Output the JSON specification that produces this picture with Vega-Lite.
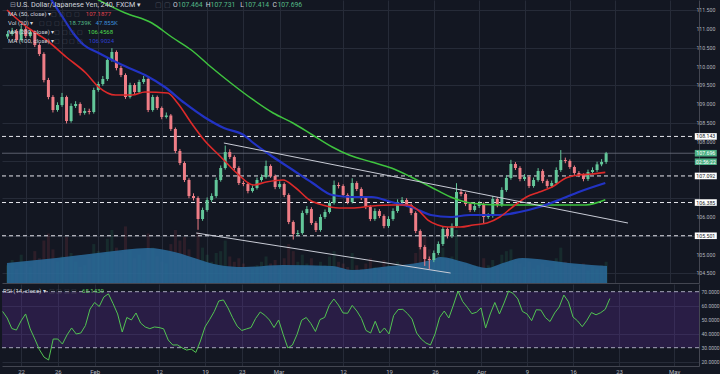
{
"$schema":"https://vega.github.io/schema/vega-lite/v6.json",
"background":"#131722",
"padding":0,
"spacing":1,
"config":{"view":{"stroke":null},"font":"Roboto","axis":{"labelFont":"Roboto","labelColor":"#b2b5be","ticks":false,"gridColor":"#262b38","gridWidth":1,"domainColor":"#434651"}},
"datasets":{
"candles":[
{"d":-2,"o":110.8,"h":110.95,"l":110.74,"c":110.867,"v":50,"r":55.9},
{"d":-1.5,"o":110.867,"h":111.03,"l":110.82,"c":110.947,"v":65,"r":51.2},
{"d":-1,"o":110.947,"h":111.0,"l":110.65,"c":110.707,"v":40,"r":43.7},
{"d":-0.5,"o":110.707,"h":111.1,"l":110.66,"c":111.0,"v":80,"r":42.6},
{"d":0,"o":111.0,"h":111.06,"l":110.76,"c":110.814,"v":55,"r":49.1},
{"d":0.5,"o":110.814,"h":110.99,"l":110.77,"c":110.92,"v":45,"r":54.1},
{"d":1,"o":110.92,"h":110.96,"l":110.52,"c":110.574,"v":90,"r":43.4},
{"d":1.5,"o":110.574,"h":110.62,"l":110.28,"c":110.335,"v":70,"r":36.2},
{"d":2,"o":110.335,"h":110.38,"l":109.58,"c":109.643,"v":120,"r":28.6},
{"d":2.5,"o":109.643,"h":109.7,"l":109.13,"c":109.191,"v":140,"r":23.3},
{"d":3,"o":109.191,"h":109.24,"l":108.78,"c":108.845,"v":95,"r":21.2},
{"d":3.5,"o":108.845,"h":109.05,"l":108.8,"c":108.978,"v":60,"r":36.2},
{"d":4,"o":108.978,"h":109.3,"l":108.93,"c":109.191,"v":75,"r":36.2},
{"d":4.5,"o":109.191,"h":109.23,"l":108.49,"c":108.553,"v":130,"r":32.6},
{"d":5,"o":108.553,"h":109.02,"l":108.51,"c":108.952,"v":85,"r":39.1},
{"d":5.5,"o":108.952,"h":109.08,"l":108.9,"c":109.005,"v":60,"r":44.1},
{"d":6,"o":109.005,"h":109.05,"l":108.7,"c":108.766,"v":45,"r":39.8},
{"d":6.5,"o":108.766,"h":108.9,"l":108.72,"c":108.82,"v":50,"r":40.5},
{"d":7,"o":108.82,"h":108.88,"l":108.73,"c":108.792,"v":70,"r":45.8},
{"d":7.5,"o":108.792,"h":109.44,"l":108.75,"c":109.377,"v":110,"r":57.6},
{"d":8,"o":109.377,"h":109.6,"l":109.33,"c":109.537,"v":90,"r":62.3},
{"d":8.5,"o":109.537,"h":109.75,"l":109.49,"c":109.67,"v":80,"r":59.4},
{"d":9,"o":109.67,"h":110.24,"l":109.62,"c":110.175,"v":125,"r":66.2},
{"d":9.5,"o":110.175,"h":110.49,"l":110.13,"c":110.388,"v":150,"r":68.5},
{"d":10,"o":110.388,"h":110.43,"l":109.9,"c":109.962,"v":100,"r":61.6},
{"d":10.5,"o":109.962,"h":110.02,"l":109.72,"c":109.776,"v":85,"r":54.1},
{"d":11,"o":109.776,"h":109.82,"l":109.14,"c":109.191,"v":160,"r":41.2},
{"d":11.5,"o":109.191,"h":109.57,"l":109.15,"c":109.51,"v":95,"r":51.6},
{"d":12,"o":109.51,"h":109.56,"l":109.27,"c":109.324,"v":70,"r":49.8},
{"d":12.5,"o":109.324,"h":109.65,"l":109.28,"c":109.59,"v":80,"r":54.8},
{"d":13,"o":109.59,"h":109.75,"l":109.54,"c":109.67,"v":65,"r":47.6},
{"d":13.5,"o":109.67,"h":109.71,"l":108.79,"c":108.845,"v":140,"r":44.8},
{"d":14,"o":108.845,"h":109.25,"l":108.8,"c":109.191,"v":100,"r":43.6},
{"d":14.5,"o":109.191,"h":109.23,"l":108.85,"c":108.899,"v":75,"r":44.8},
{"d":15,"o":108.899,"h":108.94,"l":108.6,"c":108.659,"v":60,"r":44.4},
{"d":15.5,"o":108.659,"h":108.78,"l":108.62,"c":108.7,"v":55,"r":43.5},
{"d":16,"o":108.7,"h":108.74,"l":108.29,"c":108.34,"v":110,"r":35.5},
{"d":16.5,"o":108.34,"h":108.38,"l":107.7,"c":107.755,"v":150,"r":31.9},
{"d":17,"o":107.755,"h":107.81,"l":107.38,"c":107.436,"v":120,"r":32.0},
{"d":17.5,"o":107.436,"h":107.48,"l":106.93,"c":106.984,"v":130,"r":29.9},
{"d":18,"o":106.984,"h":107.03,"l":106.5,"c":106.558,"v":95,"r":28.3},
{"d":18.5,"o":106.558,"h":106.63,"l":106.44,"c":106.505,"v":70,"r":29.0},
{"d":19,"o":106.505,"h":106.55,"l":105.66,"c":105.947,"v":145,"r":26.6},
{"d":19.5,"o":105.947,"h":106.25,"l":105.9,"c":106.186,"v":100,"r":34.8},
{"d":20,"o":106.186,"h":106.52,"l":106.14,"c":106.452,"v":80,"r":44.8},
{"d":20.5,"o":106.452,"h":106.63,"l":106.4,"c":106.558,"v":60,"r":50.1},
{"d":21,"o":106.558,"h":107.05,"l":106.51,"c":106.984,"v":85,"r":55.8},
{"d":21.5,"o":106.984,"h":107.37,"l":106.94,"c":107.303,"v":90,"r":63.4},
{"d":22,"o":107.303,"h":107.9,"l":107.26,"c":107.728,"v":120,"r":64.1},
{"d":22.5,"o":107.728,"h":107.8,"l":107.54,"c":107.595,"v":75,"r":58.4},
{"d":23,"o":107.595,"h":107.64,"l":107.25,"c":107.303,"v":60,"r":51.4},
{"d":23.5,"o":107.303,"h":107.35,"l":106.85,"c":106.904,"v":70,"r":45.3},
{"d":24,"o":106.904,"h":106.96,"l":106.82,"c":106.877,"v":55,"r":42.3},
{"d":24.5,"o":106.877,"h":106.92,"l":106.63,"c":106.691,"v":45,"r":43.4},
{"d":25,"o":106.691,"h":106.84,"l":106.65,"c":106.771,"v":40,"r":44.4},
{"d":25.5,"o":106.771,"h":107.05,"l":106.73,"c":106.984,"v":50,"r":50.9},
{"d":26,"o":106.984,"h":107.13,"l":106.94,"c":107.064,"v":60,"r":55.5},
{"d":26.5,"o":107.064,"h":107.5,"l":107.02,"c":107.356,"v":75,"r":53.2},
{"d":27,"o":107.356,"h":107.4,"l":107.04,"c":107.09,"v":55,"r":49.8},
{"d":27.5,"o":107.09,"h":107.13,"l":106.74,"c":106.798,"v":65,"r":44.4},
{"d":28,"o":106.798,"h":106.95,"l":106.75,"c":106.877,"v":40,"r":49.8},
{"d":28.5,"o":106.877,"h":106.92,"l":106.53,"c":106.585,"v":70,"r":39.4},
{"d":29,"o":106.585,"h":106.63,"l":105.81,"c":105.867,"v":110,"r":29.8},
{"d":29.5,"o":105.867,"h":105.91,"l":105.4,"c":105.548,"v":90,"r":31.9},
{"d":30,"o":105.548,"h":105.65,"l":105.5,"c":105.574,"v":60,"r":39.4},
{"d":30.5,"o":105.574,"h":106.17,"l":105.53,"c":106.106,"v":80,"r":49.6},
{"d":31,"o":106.106,"h":106.29,"l":106.06,"c":106.212,"v":55,"r":51.6},
{"d":31.5,"o":106.212,"h":106.26,"l":105.79,"c":105.84,"v":70,"r":47.3},
{"d":32,"o":105.84,"h":105.89,"l":105.6,"c":105.654,"v":45,"r":41.6},
{"d":32.5,"o":105.654,"h":106.07,"l":105.61,"c":106.0,"v":60,"r":50.1},
{"d":33,"o":106.0,"h":106.2,"l":105.95,"c":106.133,"v":50,"r":51.6},
{"d":33.5,"o":106.133,"h":106.44,"l":106.09,"c":106.372,"v":75,"r":60.2},
{"d":34,"o":106.372,"h":106.97,"l":106.33,"c":106.851,"v":90,"r":64.8},
{"d":34.5,"o":106.851,"h":106.92,"l":106.76,"c":106.824,"v":60,"r":60.5},
{"d":35,"o":106.824,"h":106.87,"l":106.53,"c":106.585,"v":55,"r":54.8},
{"d":35.5,"o":106.585,"h":106.63,"l":106.34,"c":106.399,"v":45,"r":54.6},
{"d":36,"o":106.399,"h":107.03,"l":106.36,"c":106.904,"v":85,"r":60.2},
{"d":36.5,"o":106.904,"h":106.95,"l":106.69,"c":106.744,"v":50,"r":56.2},
{"d":37,"o":106.744,"h":106.79,"l":106.45,"c":106.505,"v":40,"r":50.9},
{"d":37.5,"o":106.505,"h":106.55,"l":106.21,"c":106.266,"v":55,"r":42.3},
{"d":38,"o":106.266,"h":106.31,"l":105.89,"c":105.947,"v":70,"r":40.5},
{"d":38.5,"o":105.947,"h":106.23,"l":105.9,"c":106.159,"v":45,"r":48.9},
{"d":39,"o":106.159,"h":106.21,"l":105.97,"c":106.026,"v":40,"r":40.5},
{"d":39.5,"o":106.026,"h":106.07,"l":105.7,"c":105.76,"v":65,"r":44.1},
{"d":40,"o":105.76,"h":106.02,"l":105.71,"c":105.947,"v":50,"r":39.8},
{"d":40.5,"o":105.947,"h":106.23,"l":105.9,"c":106.159,"v":45,"r":53.0},
{"d":41,"o":106.159,"h":106.47,"l":106.11,"c":106.399,"v":60,"r":57.3},
{"d":41.5,"o":106.399,"h":106.53,"l":106.35,"c":106.452,"v":40,"r":57.4},
{"d":42,"o":106.452,"h":106.5,"l":106.27,"c":106.319,"v":35,"r":54.4},
{"d":42.5,"o":106.319,"h":106.36,"l":106.05,"c":106.106,"v":55,"r":50.5},
{"d":43,"o":106.106,"h":106.15,"l":105.57,"c":105.627,"v":85,"r":40.5},
{"d":43.5,"o":105.627,"h":105.67,"l":105.14,"c":105.202,"v":110,"r":36.2},
{"d":44,"o":105.202,"h":105.25,"l":104.7,"c":104.883,"v":130,"r":33.4},
{"d":44.5,"o":104.883,"h":104.95,"l":104.62,"c":104.856,"v":95,"r":31.9},
{"d":45,"o":104.856,"h":105.11,"l":104.8,"c":105.042,"v":70,"r":39.8},
{"d":45.5,"o":105.042,"h":105.35,"l":104.99,"c":105.282,"v":80,"r":51.6},
{"d":46,"o":105.282,"h":105.75,"l":105.23,"c":105.681,"v":100,"r":56.2},
{"d":46.5,"o":105.681,"h":105.73,"l":105.43,"c":105.494,"v":65,"r":51.2},
{"d":47,"o":105.494,"h":105.83,"l":105.44,"c":105.76,"v":75,"r":60.5},
{"d":47.5,"o":105.76,"h":106.9,"l":105.71,"c":106.665,"v":150,"r":70.5},
{"d":48,"o":106.665,"h":106.75,"l":106.55,"c":106.611,"v":60,"r":63.0},
{"d":48.5,"o":106.611,"h":106.66,"l":106.29,"c":106.345,"v":55,"r":58.9},
{"d":49,"o":106.345,"h":106.39,"l":106.13,"c":106.186,"v":45,"r":54.3},
{"d":49.5,"o":106.186,"h":106.36,"l":106.14,"c":106.292,"v":50,"r":55.3},
{"d":50,"o":106.292,"h":106.42,"l":106.24,"c":106.345,"v":40,"r":58.4},
{"d":50.5,"o":106.345,"h":106.39,"l":105.83,"c":106.0,"v":70,"r":44.1},
{"d":51,"o":106.0,"h":106.1,"l":105.95,"c":106.026,"v":50,"r":54.1},
{"d":51.5,"o":106.026,"h":106.56,"l":105.98,"c":106.478,"v":65,"r":62.3},
{"d":52,"o":106.478,"h":106.53,"l":106.26,"c":106.319,"v":45,"r":54.1},
{"d":52.5,"o":106.319,"h":106.79,"l":106.27,"c":106.718,"v":80,"r":61.9},
{"d":53,"o":106.718,"h":107.11,"l":106.67,"c":107.037,"v":90,"r":70.5},
{"d":53.5,"o":107.037,"h":107.52,"l":106.99,"c":107.409,"v":95,"r":68.7},
{"d":54,"o":107.409,"h":107.46,"l":107.25,"c":107.303,"v":60,"r":64.8},
{"d":54.5,"o":107.303,"h":107.35,"l":106.95,"c":107.01,"v":55,"r":55.9},
{"d":55,"o":107.01,"h":107.14,"l":106.96,"c":107.064,"v":45,"r":54.1},
{"d":55.5,"o":107.064,"h":107.11,"l":106.77,"c":106.824,"v":60,"r":49.3},
{"d":56,"o":106.824,"h":107.05,"l":106.78,"c":106.984,"v":40,"r":57.1},
{"d":56.5,"o":106.984,"h":107.3,"l":106.94,"c":107.223,"v":50,"r":56.9},
{"d":57,"o":107.223,"h":107.27,"l":106.9,"c":106.957,"v":55,"r":51.5},
{"d":57.5,"o":106.957,"h":107.0,"l":106.77,"c":106.824,"v":45,"r":48.7},
{"d":58,"o":106.824,"h":106.97,"l":106.78,"c":106.904,"v":40,"r":54.8},
{"d":58.5,"o":106.904,"h":107.32,"l":106.86,"c":107.25,"v":70,"r":59.1},
{"d":59,"o":107.25,"h":107.78,"l":107.2,"c":107.516,"v":100,"r":67.6},
{"d":59.5,"o":107.516,"h":107.58,"l":107.43,"c":107.489,"v":60,"r":62.8},
{"d":60,"o":107.489,"h":107.53,"l":107.28,"c":107.33,"v":50,"r":51.9},
{"d":60.5,"o":107.33,"h":107.37,"l":107.12,"c":107.17,"v":45,"r":49.1},
{"d":61,"o":107.17,"h":107.22,"l":107.06,"c":107.117,"v":40,"r":45.0},
{"d":61.5,"o":107.117,"h":107.16,"l":106.95,"c":107.01,"v":55,"r":49.5},
{"d":62,"o":107.01,"h":107.26,"l":106.96,"c":107.197,"v":35,"r":55.1},
{"d":62.5,"o":107.197,"h":107.32,"l":107.15,"c":107.25,"v":45,"r":53.5},
{"d":63,"o":107.25,"h":107.47,"l":107.2,"c":107.4,"v":40,"r":55.0},
{"d":63.5,"o":107.4,"h":107.54,"l":107.35,"c":107.464,"v":50,"r":57.4},
{"d":64,"o":107.464,"h":107.731,"l":107.414,"c":107.696,"v":60,"r":65.14}
],
"ma":[
{"s":"50","d":-2.07,"p":111.505},{"s":"50","d":0.11,"p":111.053},{"s":"50","d":2.28,"p":110.707},{"s":"50","d":4.46,"p":110.255},{"s":"50","d":6.63,"p":109.83},{"s":"50","d":8.04,"p":109.457},{"s":"50","d":9.89,"p":109.245},{"s":"50","d":11.74,"p":109.245},{"s":"50","d":13.15,"p":109.324},{"s":"50","d":15.65,"p":109.298},{"s":"50","d":16.74,"p":109.032},{"s":"50","d":18.26,"p":108.5},{"s":"50","d":19.67,"p":108.048},{"s":"50","d":21.52,"p":107.596},{"s":"50","d":23.26,"p":107.17},{"s":"50","d":25.11,"p":106.851},{"s":"50","d":26.52,"p":106.931},{"s":"50","d":28.37,"p":106.984},{"s":"50","d":29.78,"p":106.771},{"s":"50","d":31.3,"p":106.452},{"s":"50","d":32.72,"p":106.319},{"s":"50","d":34.56,"p":106.239},{"s":"50","d":35.98,"p":106.239},{"s":"50","d":38.15,"p":106.292},{"s":"50","d":40.32,"p":106.319},{"s":"50","d":42.17,"p":106.319},{"s":"50","d":43.26,"p":106.186},{"s":"50","d":44.35,"p":105.92},{"s":"50","d":45.43,"p":105.787},{"s":"50","d":46.52,"p":105.734},{"s":"50","d":47.93,"p":105.734},{"s":"50","d":49.35,"p":105.787},{"s":"50","d":50.87,"p":105.84},{"s":"50","d":52.28,"p":106.0},{"s":"50","d":53.69,"p":106.266},{"s":"50","d":55.22,"p":106.532},{"s":"50","d":56.63,"p":106.665},{"s":"50","d":58.04,"p":106.798},{"s":"50","d":59.56,"p":107.037},{"s":"50","d":60.98,"p":107.117},{"s":"50","d":62.39,"p":107.143},{"s":"50","d":63.91,"p":107.188},
{"s":"100","d":1.74,"p":112.17},{"s":"100","d":2.83,"p":111.771},{"s":"100","d":4.13,"p":111.292},{"s":"100","d":5.22,"p":110.894},{"s":"100","d":6.41,"p":110.574},{"s":"100","d":8.04,"p":110.362},{"s":"100","d":10.65,"p":110.042},{"s":"100","d":13.15,"p":109.776},{"s":"100","d":15.33,"p":109.457},{"s":"100","d":17.5,"p":109.032},{"s":"100","d":19.67,"p":108.66},{"s":"100","d":21.85,"p":108.367},{"s":"100","d":24.02,"p":108.181},{"s":"100","d":25.11,"p":107.968},{"s":"100","d":27.28,"p":107.596},{"s":"100","d":29.46,"p":107.25},{"s":"100","d":31.63,"p":106.904},{"s":"100","d":33.8,"p":106.585},{"s":"100","d":35.98,"p":106.532},{"s":"100","d":38.15,"p":106.532},{"s":"100","d":40.32,"p":106.399},{"s":"100","d":42.5,"p":106.266},{"s":"100","d":44.67,"p":106.053},{"s":"100","d":46.85,"p":106.0},{"s":"100","d":49.02,"p":106.053},{"s":"100","d":52.28,"p":106.053},{"s":"100","d":54.46,"p":106.133},{"s":"100","d":56.63,"p":106.266},{"s":"100","d":58.8,"p":106.452},{"s":"100","d":60.98,"p":106.665},{"s":"100","d":63.91,"p":106.904},
{"s":"200","d":5.54,"p":112.09},{"s":"200","d":8.04,"p":111.771},{"s":"200","d":10.98,"p":111.425},{"s":"200","d":13.91,"p":111.159},{"s":"200","d":16.09,"p":110.787},{"s":"200","d":18.26,"p":110.441},{"s":"200","d":20.43,"p":109.989},{"s":"200","d":22.61,"p":109.564},{"s":"200","d":25.11,"p":109.112},{"s":"200","d":27.28,"p":108.766},{"s":"200","d":29.46,"p":108.5},{"s":"200","d":31.63,"p":108.181},{"s":"200","d":33.8,"p":107.862},{"s":"200","d":35.65,"p":107.649},{"s":"200","d":38.15,"p":107.463},{"s":"200","d":40.32,"p":107.303},{"s":"200","d":42.5,"p":107.064},{"s":"200","d":44.67,"p":106.798},{"s":"200","d":46.85,"p":106.532},{"s":"200","d":49.02,"p":106.372},{"s":"200","d":52.28,"p":106.319},{"s":"200","d":56.63,"p":106.319},{"s":"200","d":61.74,"p":106.319},{"s":"200","d":63.91,"p":106.457}
],
"volma":[
{"d":-2.07,"vm":56.5},{"d":3.37,"vm":70.7},{"d":8.8,"vm":87.6},{"d":13.48,"vm":98.9},{"d":16.41,"vm":87.6},{"d":18.59,"vm":70.7},{"d":21.3,"vm":50.9},{"d":24.02,"vm":45.2},{"d":28.37,"vm":50.9},{"d":33.8,"vm":48.1},{"d":35.98,"vm":36.8},{"d":39.24,"vm":45.2},{"d":44.67,"vm":65.0},{"d":45.76,"vm":73.5},{"d":48.26,"vm":59.4},{"d":50.87,"vm":42.4},{"d":52.61,"vm":56.5},{"d":54.78,"vm":70.7},{"d":57.39,"vm":65.0},{"d":59.89,"vm":56.5},{"d":62.39,"vm":50.9},{"d":64.1,"vm":47.9}
],
"levels":[{"p":108.143,"t":"108.143"},{"p":107.092,"t":"107.092"},{"p":106.385,"t":"106.385"},{"p":105.501,"t":"105.501"}],
"tags":[{"p":107.696,"t":"107.696"},{"p":107.47,"t":"02:56:22"}],
"last":[{"p":107.696}],
"trend":[{"x1":21.85,"p1":107.968,"x2":66.41,"p2":105.84},{"x1":18.8,"p1":105.574,"x2":46.85,"p2":104.51}],
"rsilev":[{"r":70},{"r":30}],
"pticks":[{"v":104.5},{"v":105},{"v":106},{"v":108},{"v":108.5},{"v":109},{"v":109.5},{"v":110},{"v":110.5},{"v":111},{"v":111.5}],
"rticks":[{"v":20},{"v":30},{"v":40},{"v":50},{"v":60},{"v":70}]
},
"vconcat":[
{
"width":697,"height":283,
"layer":[
{"layer":[
{"data":{"name":"candles"},"mark":{"type":"bar","width":3,"opacity":0.18},
 "encoding":{"x":{"field":"d","type":"quantitative","scale":{"domain":[-2.0667,73.69],"nice":false,"zero":false},"title":null,
   "axis":{"values":[0,4,8,15,20,24,28,35,40,45,50,55,60,65,71],"labels":false,"grid":true,"domain":true,"ticks":false}},
 "y":{"field":"v","type":"quantitative","scale":{"domain":[0,800],"nice":false},"axis":null},
 "color":{"condition":{"test":"datum.c>=datum.o","value":"#2f8a64"},"value":"#a8424e"}}},
{"data":{"name":"volma"},"mark":{"type":"area","color":"#2a6a98","opacity":0.88,"interpolate":"monotone"},
 "encoding":{"x":{"field":"d","type":"quantitative","scale":{"domain":[-2.0667,73.69],"nice":false,"zero":false},"title":null},
 "y":{"field":"vm","type":"quantitative","scale":{"domain":[0,800],"nice":false},"axis":null}}}
]},
{"layer":[
{"data":{"name":"levels"},"mark":{"type":"rule","color":"#e6e6ec","strokeDash":[4,3],"strokeWidth":1},
 "encoding":{"y":{"field":"p","type":"quantitative","scale":{"domain":[104.245,111.771],"nice":false,"zero":false},"title":null,
   "axis":{"orient":"right","values":[104.5,105,105.5,106,106.5,107,107.5,108,108.5,109,109.5,110,110.5,111,111.5],"labels":false,"grid":true,"domain":true}}}},
{"data":{"name":"last"},"mark":{"type":"rule","color":"#6b7280","strokeWidth":1,"opacity":0.8},
 "encoding":{"y":{"field":"p","type":"quantitative","scale":{"domain":[104.245,111.771],"nice":false,"zero":false},"title":null}}},
{"data":{"name":"candles"},"mark":{"type":"rule","strokeWidth":1},
 "encoding":{"x":{"field":"d","type":"quantitative","scale":{"domain":[-2.0667,73.69],"nice":false,"zero":false},"title":null},
 "y":{"field":"l","type":"quantitative","scale":{"domain":[104.245,111.771],"nice":false,"zero":false},"title":null},
 "y2":{"field":"h"},
 "color":{"condition":{"test":"datum.c>=datum.o","value":"#63c79a"},"value":"#ef7d86"}}},
{"data":{"name":"candles"},"mark":{"type":"bar","width":3},
 "encoding":{"x":{"field":"d","type":"quantitative","scale":{"domain":[-2.0667,73.69],"nice":false,"zero":false},"title":null},
 "y":{"field":"o","type":"quantitative","scale":{"domain":[104.245,111.771],"nice":false,"zero":false},"title":null},
 "y2":{"field":"c"},
 "color":{"condition":{"test":"datum.c>=datum.o","value":"#63c79a"},"value":"#ef7d86"}}},
{"data":{"name":"ma"},"transform":[{"filter":"datum.s=='200'"}],"mark":{"type":"line","color":"#3fc43f","strokeWidth":1.5,"interpolate":"monotone","clip":true},
 "encoding":{"x":{"field":"d","type":"quantitative","scale":{"domain":[-2.0667,73.69],"nice":false,"zero":false},"title":null},
 "y":{"field":"p","type":"quantitative","scale":{"domain":[104.245,111.771],"nice":false,"zero":false},"title":null}}},
{"data":{"name":"ma"},"transform":[{"filter":"datum.s=='100'"}],"mark":{"type":"line","color":"#2233c4","strokeWidth":2.2,"interpolate":"monotone","clip":true},
 "encoding":{"x":{"field":"d","type":"quantitative","scale":{"domain":[-2.0667,73.69],"nice":false,"zero":false},"title":null},
 "y":{"field":"p","type":"quantitative","scale":{"domain":[104.245,111.771],"nice":false,"zero":false},"title":null}}},
{"data":{"name":"ma"},"transform":[{"filter":"datum.s=='50'"}],"mark":{"type":"line","color":"#dd2a2a","strokeWidth":1.6,"interpolate":"monotone","clip":true},
 "encoding":{"x":{"field":"d","type":"quantitative","scale":{"domain":[-2.0667,73.69],"nice":false,"zero":false},"title":null},
 "y":{"field":"p","type":"quantitative","scale":{"domain":[104.245,111.771],"nice":false,"zero":false},"title":null}}},
{"data":{"name":"trend"},"mark":{"type":"rule","color":"#c9ccd6","strokeWidth":1},
 "encoding":{"x":{"field":"x1","type":"quantitative","scale":{"domain":[-2.0667,73.69],"nice":false,"zero":false},"title":null},
 "x2":{"field":"x2"},
 "y":{"field":"p1","type":"quantitative","scale":{"domain":[104.245,111.771],"nice":false,"zero":false},"title":null},
 "y2":{"field":"p2"}}},
{"data":{"name":"pticks"},"mark":{"type":"text","fontSize":5.2,"color":"#b2b5be","align":"left","baseline":"middle"},
 "encoding":{"x":{"datum":73.96,"type":"quantitative","scale":{"domain":[-2.0667,73.69],"nice":false,"zero":false},"title":null},
 "y":{"field":"v","type":"quantitative","scale":{"domain":[104.245,111.771],"nice":false,"zero":false},"title":null},"text":{"field":"v","format":".3f"}}},
{"data":{"name":"levels"},"mark":{"type":"point","shape":"M-1,-0.3L1,-0.3L1,0.3L-1,0.3Z","size":484,"filled":true,"opacity":1,"color":"#ffffff"},
 "encoding":{"x":{"datum":74.99,"type":"quantitative","scale":{"domain":[-2.0667,73.69],"nice":false,"zero":false},"title":null},
 "y":{"field":"p","type":"quantitative","scale":{"domain":[104.245,111.771],"nice":false,"zero":false},"title":null}}},
{"data":{"name":"levels"},"mark":{"type":"text","fontSize":5.2,"color":"#131722","align":"center","baseline":"middle"},
 "encoding":{"x":{"datum":74.99,"type":"quantitative","scale":{"domain":[-2.0667,73.69],"nice":false,"zero":false},"title":null},
 "y":{"field":"p","type":"quantitative","scale":{"domain":[104.245,111.771],"nice":false,"zero":false},"title":null},"text":{"field":"t"}}},
{"data":{"name":"tags"},"mark":{"type":"point","shape":"M-1,-0.3L1,-0.3L1,0.3L-1,0.3Z","size":484,"filled":true,"opacity":1,"color":"#4caf84"},
 "encoding":{"x":{"datum":74.99,"type":"quantitative","scale":{"domain":[-2.0667,73.69],"nice":false,"zero":false},"title":null},
 "y":{"field":"p","type":"quantitative","scale":{"domain":[104.245,111.771],"nice":false,"zero":false},"title":null}}},
{"data":{"name":"tags"},"mark":{"type":"text","fontSize":5.2,"color":"#ffffff","align":"center","baseline":"middle"},
 "encoding":{"x":{"datum":74.99,"type":"quantitative","scale":{"domain":[-2.0667,73.69],"nice":false,"zero":false},"title":null},
 "y":{"field":"p","type":"quantitative","scale":{"domain":[104.245,111.771],"nice":false,"zero":false},"title":null},"text":{"field":"t"}}},
{"data":{"values":[{}]},"mark":{"type":"text","text":"⊟","color":"#9598a1","fontSize":7,"align":"left","baseline":"middle"},
 "encoding":{"x":{"datum":-1.74,"type":"quantitative","scale":{"domain":[-2.0667,73.69],"nice":false,"zero":false},"title":null},"y":{"datum":111.638,"type":"quantitative","scale":{"domain":[104.245,111.771],"nice":false,"zero":false},"title":null}}},
{"data":{"values":[{}]},"mark":{"type":"text","text":"U.S. Dollar/Japanese Yen, 240, FXCM ▾","color":"#d1d4dc","fontSize":7.2,"align":"left","baseline":"middle"},
 "encoding":{"x":{"datum":-1.02,"type":"quantitative","scale":{"domain":[-2.0667,73.69],"nice":false,"zero":false},"title":null},"y":{"datum":111.638,"type":"quantitative","scale":{"domain":[104.245,111.771],"nice":false,"zero":false},"title":null}}},
{"data":{"values":[{}]},"mark":{"type":"text","text":"▢ ▢","color":"#4a4e5a","fontSize":7,"align":"left","baseline":"middle"},
 "encoding":{"x":{"datum":14.3,"type":"quantitative","scale":{"domain":[-2.0667,73.69],"nice":false,"zero":false},"title":null},"y":{"datum":111.638,"type":"quantitative","scale":{"domain":[104.245,111.771],"nice":false,"zero":false},"title":null}}},
{"data":{"values":[{}]},"mark":{"type":"text","text":"O","color":"#d1d4dc","fontSize":6.8,"align":"left","baseline":"middle"},
 "encoding":{"x":{"datum":16.23,"type":"quantitative","scale":{"domain":[-2.0667,73.69],"nice":false,"zero":false},"title":null},"y":{"datum":111.638,"type":"quantitative","scale":{"domain":[104.245,111.771],"nice":false,"zero":false},"title":null}}},
{"data":{"values":[{}]},"mark":{"type":"text","text":"107.464","color":"#53b987","fontSize":6.8,"align":"left","baseline":"middle"},
 "encoding":{"x":{"datum":16.77,"type":"quantitative","scale":{"domain":[-2.0667,73.69],"nice":false,"zero":false},"title":null},"y":{"datum":111.638,"type":"quantitative","scale":{"domain":[104.245,111.771],"nice":false,"zero":false},"title":null}}},
{"data":{"values":[{}]},"mark":{"type":"text","text":"H","color":"#d1d4dc","fontSize":6.8,"align":"left","baseline":"middle"},
 "encoding":{"x":{"datum":19.86,"type":"quantitative","scale":{"domain":[-2.0667,73.69],"nice":false,"zero":false},"title":null},"y":{"datum":111.638,"type":"quantitative","scale":{"domain":[104.245,111.771],"nice":false,"zero":false},"title":null}}},
{"data":{"values":[{}]},"mark":{"type":"text","text":"107.731","color":"#53b987","fontSize":6.8,"align":"left","baseline":"middle"},
 "encoding":{"x":{"datum":20.38,"type":"quantitative","scale":{"domain":[-2.0667,73.69],"nice":false,"zero":false},"title":null},"y":{"datum":111.638,"type":"quantitative","scale":{"domain":[104.245,111.771],"nice":false,"zero":false},"title":null}}},
{"data":{"values":[{}]},"mark":{"type":"text","text":"L","color":"#d1d4dc","fontSize":6.8,"align":"left","baseline":"middle"},
 "encoding":{"x":{"datum":23.66,"type":"quantitative","scale":{"domain":[-2.0667,73.69],"nice":false,"zero":false},"title":null},"y":{"datum":111.638,"type":"quantitative","scale":{"domain":[104.245,111.771],"nice":false,"zero":false},"title":null}}},
{"data":{"values":[{}]},"mark":{"type":"text","text":"107.414","color":"#53b987","fontSize":6.8,"align":"left","baseline":"middle"},
 "encoding":{"x":{"datum":24.12,"type":"quantitative","scale":{"domain":[-2.0667,73.69],"nice":false,"zero":false},"title":null},"y":{"datum":111.638,"type":"quantitative","scale":{"domain":[104.245,111.771],"nice":false,"zero":false},"title":null}}},
{"data":{"values":[{}]},"mark":{"type":"text","text":"C","color":"#d1d4dc","fontSize":6.8,"align":"left","baseline":"middle"},
 "encoding":{"x":{"datum":27.21,"type":"quantitative","scale":{"domain":[-2.0667,73.69],"nice":false,"zero":false},"title":null},"y":{"datum":111.638,"type":"quantitative","scale":{"domain":[104.245,111.771],"nice":false,"zero":false},"title":null}}},
{"data":{"values":[{}]},"mark":{"type":"text","text":"107.696","color":"#53b987","fontSize":6.8,"align":"left","baseline":"middle"},
 "encoding":{"x":{"datum":27.75,"type":"quantitative","scale":{"domain":[-2.0667,73.69],"nice":false,"zero":false},"title":null},"y":{"datum":111.638,"type":"quantitative","scale":{"domain":[104.245,111.771],"nice":false,"zero":false},"title":null}}},
{"data":{"values":[{}]},"mark":{"type":"text","text":"MA (50, close) ▾","color":"#d1d4dc","fontSize":6,"align":"left","baseline":"middle"},
 "encoding":{"x":{"datum":-1.96,"type":"quantitative","scale":{"domain":[-2.0667,73.69],"nice":false,"zero":false},"title":null},"y":{"datum":111.399,"type":"quantitative","scale":{"domain":[104.245,111.771],"nice":false,"zero":false},"title":null}}},
{"data":{"values":[{}]},"mark":{"type":"text","text":"▢ ▢ ▢ ▢","color":"#4a4e5a","fontSize":6,"align":"left","baseline":"middle"},
 "encoding":{"x":{"datum":2.83,"type":"quantitative","scale":{"domain":[-2.0667,73.69],"nice":false,"zero":false},"title":null},"y":{"datum":111.399,"type":"quantitative","scale":{"domain":[104.245,111.771],"nice":false,"zero":false},"title":null}}},
{"data":{"values":[{}]},"mark":{"type":"text","text":"107.1877","color":"#e0434f","fontSize":6,"align":"left","baseline":"middle"},
 "encoding":{"x":{"datum":6.63,"type":"quantitative","scale":{"domain":[-2.0667,73.69],"nice":false,"zero":false},"title":null},"y":{"datum":111.399,"type":"quantitative","scale":{"domain":[104.245,111.771],"nice":false,"zero":false},"title":null}}},
{"data":{"values":[{}]},"mark":{"type":"text","text":"Vol (20) ▾","color":"#d1d4dc","fontSize":6,"align":"left","baseline":"middle"},
 "encoding":{"x":{"datum":-1.96,"type":"quantitative","scale":{"domain":[-2.0667,73.69],"nice":false,"zero":false},"title":null},"y":{"datum":111.159,"type":"quantitative","scale":{"domain":[104.245,111.771],"nice":false,"zero":false},"title":null}}},
{"data":{"values":[{}]},"mark":{"type":"text","text":"▢ ▢ ▢ ▢","color":"#4a4e5a","fontSize":6,"align":"left","baseline":"middle"},
 "encoding":{"x":{"datum":1.41,"type":"quantitative","scale":{"domain":[-2.0667,73.69],"nice":false,"zero":false},"title":null},"y":{"datum":111.159,"type":"quantitative","scale":{"domain":[104.245,111.771],"nice":false,"zero":false},"title":null}}},
{"data":{"values":[{}]},"mark":{"type":"text","text":"18.739K","color":"#53b987","fontSize":6,"align":"left","baseline":"middle"},
 "encoding":{"x":{"datum":4.78,"type":"quantitative","scale":{"domain":[-2.0667,73.69],"nice":false,"zero":false},"title":null},"y":{"datum":111.159,"type":"quantitative","scale":{"domain":[104.245,111.771],"nice":false,"zero":false},"title":null}}},
{"data":{"values":[{}]},"mark":{"type":"text","text":"47.855K","color":"#3d8fd9","fontSize":6,"align":"left","baseline":"middle"},
 "encoding":{"x":{"datum":7.7,"type":"quantitative","scale":{"domain":[-2.0667,73.69],"nice":false,"zero":false},"title":null},"y":{"datum":111.159,"type":"quantitative","scale":{"domain":[104.245,111.771],"nice":false,"zero":false},"title":null}}},
{"data":{"values":[{}]},"mark":{"type":"text","text":"MA (200, close) ▾","color":"#d1d4dc","fontSize":6,"align":"left","baseline":"middle"},
 "encoding":{"x":{"datum":-1.96,"type":"quantitative","scale":{"domain":[-2.0667,73.69],"nice":false,"zero":false},"title":null},"y":{"datum":110.92,"type":"quantitative","scale":{"domain":[104.245,111.771],"nice":false,"zero":false},"title":null}}},
{"data":{"values":[{}]},"mark":{"type":"text","text":"▢ ▢ ▢ ▢","color":"#4a4e5a","fontSize":6,"align":"left","baseline":"middle"},
 "encoding":{"x":{"datum":3.15,"type":"quantitative","scale":{"domain":[-2.0667,73.69],"nice":false,"zero":false},"title":null},"y":{"datum":110.92,"type":"quantitative","scale":{"domain":[104.245,111.771],"nice":false,"zero":false},"title":null}}},
{"data":{"values":[{}]},"mark":{"type":"text","text":"106.4568","color":"#4dd84d","fontSize":6,"align":"left","baseline":"middle"},
 "encoding":{"x":{"datum":6.85,"type":"quantitative","scale":{"domain":[-2.0667,73.69],"nice":false,"zero":false},"title":null},"y":{"datum":110.92,"type":"quantitative","scale":{"domain":[104.245,111.771],"nice":false,"zero":false},"title":null}}},
{"data":{"values":[{}]},"mark":{"type":"text","text":"MA (100, close) ▾","color":"#d1d4dc","fontSize":6,"align":"left","baseline":"middle"},
 "encoding":{"x":{"datum":-1.96,"type":"quantitative","scale":{"domain":[-2.0667,73.69],"nice":false,"zero":false},"title":null},"y":{"datum":110.681,"type":"quantitative","scale":{"domain":[104.245,111.771],"nice":false,"zero":false},"title":null}}},
{"data":{"values":[{}]},"mark":{"type":"text","text":"▢ ▢ ▢ ▢","color":"#4a4e5a","fontSize":6,"align":"left","baseline":"middle"},
 "encoding":{"x":{"datum":3.15,"type":"quantitative","scale":{"domain":[-2.0667,73.69],"nice":false,"zero":false},"title":null},"y":{"datum":110.681,"type":"quantitative","scale":{"domain":[104.245,111.771],"nice":false,"zero":false},"title":null}}},
{"data":{"values":[{}]},"mark":{"type":"text","text":"106.9024","color":"#2f3fd0","fontSize":6,"align":"left","baseline":"middle"},
 "encoding":{"x":{"datum":6.96,"type":"quantitative","scale":{"domain":[-2.0667,73.69],"nice":false,"zero":false},"title":null},"y":{"datum":110.681,"type":"quantitative","scale":{"domain":[104.245,111.771],"nice":false,"zero":false},"title":null}}}
]}
],
"resolve":{"scale":{"y":"independent"}}
},
{
"width":697,"height":82,
"layer":[
{"data":{"values":[{}]},"mark":{"type":"rect","color":"#6a30b0","opacity":0.25},
 "encoding":{"y":{"datum":30,"type":"quantitative","scale":{"domain":[16.93,75.5],"nice":false,"zero":false},"title":null,
   "axis":{"orient":"right","values":[20,30,40,50,60,70],"labels":false,"grid":true,"domain":true}},"y2":{"datum":70}}},
{"data":{"name":"rsilev"},"mark":{"type":"rule","color":"#a7a7bb","strokeDash":[4,3],"strokeWidth":1},
 "encoding":{"y":{"field":"r","type":"quantitative","scale":{"domain":[16.93,75.5],"nice":false,"zero":false},"title":null}}},
{"data":{"name":"candles"},"mark":{"type":"line","color":"#52c452","strokeWidth":1},
 "encoding":{"x":{"field":"d","type":"quantitative","scale":{"domain":[-2.0667,73.69],"nice":false,"zero":false},"title":null,
   "axis":{"values":[0,4,8,15,20,24,28,35,40,45,50,55,60,65,71],"labelExpr":"datum.value==0?'22':datum.value==4?'26':datum.value==8?'Feb':datum.value==15?'12':datum.value==20?'19':datum.value==24?'23':datum.value==28?'Mar':datum.value==35?'12':datum.value==40?'19':datum.value==45?'26':datum.value==50?'Apr':datum.value==55?'9':datum.value==60?'16':datum.value==65?'23':datum.value==71?'May':''","labelFontSize":6,"labelPadding":2,"grid":true,"domain":true,"labelOverlap":false,"labelFlush":false}},
 "y":{"field":"r","type":"quantitative","scale":{"domain":[16.93,75.5],"nice":false,"zero":false},"title":null}}},
{"data":{"name":"rticks"},"mark":{"type":"text","fontSize":5,"color":"#b2b5be","align":"left","baseline":"middle"},
 "encoding":{"x":{"datum":73.96,"type":"quantitative","scale":{"domain":[-2.0667,73.69],"nice":false,"zero":false},"title":null},
 "y":{"field":"v","type":"quantitative","scale":{"domain":[16.93,75.5],"nice":false,"zero":false},"title":null},"text":{"field":"v","format":".4f"}}},
{"data":{"values":[{}]},"mark":{"type":"text","text":"RSI (14, close) ▾","color":"#d1d4dc","fontSize":6,"align":"left","baseline":"middle"},
 "encoding":{"x":{"datum":-1.96,"type":"quantitative","scale":{"domain":[-2.0667,73.69],"nice":false,"zero":false},"title":null},"y":{"datum":70.5,"type":"quantitative","scale":{"domain":[16.93,75.5],"nice":false,"zero":false},"title":null}}},
{"data":{"values":[{}]},"mark":{"type":"text","text":"▢ ▢ ▢ ▢","color":"#4a4e5a","fontSize":6,"align":"left","baseline":"middle"},
 "encoding":{"x":{"datum":3.04,"type":"quantitative","scale":{"domain":[-2.0667,73.69],"nice":false,"zero":false},"title":null},"y":{"datum":70.5,"type":"quantitative","scale":{"domain":[16.93,75.5],"nice":false,"zero":false},"title":null}}},
{"data":{"values":[{}]},"mark":{"type":"text","text":"65.1439","color":"#5fd35f","fontSize":6,"align":"left","baseline":"middle"},
 "encoding":{"x":{"datum":6.63,"type":"quantitative","scale":{"domain":[-2.0667,73.69],"nice":false,"zero":false},"title":null},"y":{"datum":70.5,"type":"quantitative","scale":{"domain":[16.93,75.5],"nice":false,"zero":false},"title":null}}}
]
}
]
}
